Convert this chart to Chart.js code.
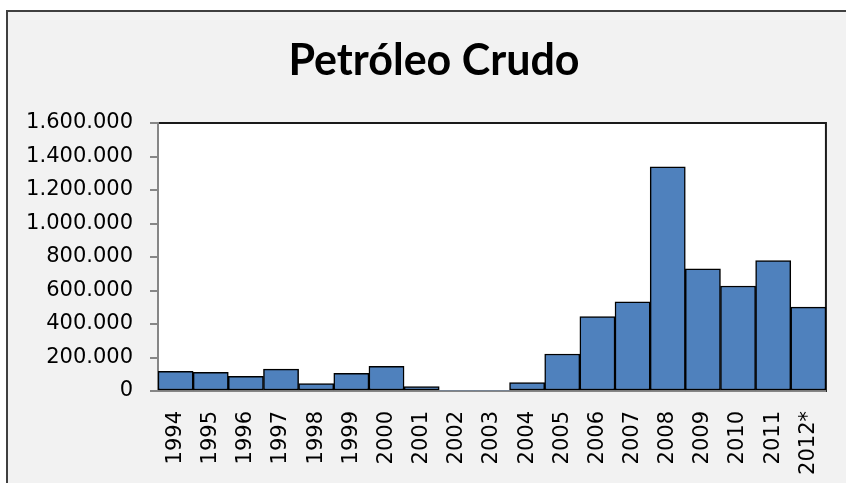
<!DOCTYPE html>
<html>
<head>
<meta charset="utf-8">
<title>Petróleo Crudo</title>
<script src="https://cdn.jsdelivr.net/npm/chart.js@4.4.1/dist/chart.umd.min.js"></script>
<style>
    html, body {
        margin: 0;
        padding: 0;
        background: #ffffff;
        overflow: hidden;
    }
    #frame {
        position: absolute;
        left: 6px;
        top: 10px;
        width: 900px;
        height: 520px;
        border: 2px solid #404040;
        background: #f2f2f2;
    }
    #petroleoChart {
        position: absolute;
        left: 0;
        top: 0;
    }
</style>
</head>
<body>
<div id="frame"></div>
<canvas id="petroleoChart" width="846" height="483"></canvas>
<script>
// Data
const chartTitle = 'Petróleo Crudo';
const years = ['1994', '1995', '1996', '1997', '1998', '1999', '2000', '2001', '2002', '2003',
    '2004', '2005', '2006', '2007', '2008', '2009', '2010', '2011', '2012*'];
const crudeValues = [117000, 111000, 87000, 131000, 45000, 105000, 147000, 26000, 0, 0,
    50000, 221000, 444000, 533000, 1339000, 730000, 627000, 778000, 501000];
const yTicks = [0, 200000, 400000, 600000, 800000, 1000000, 1200000, 1400000, 1600000];

// Format numbers with dots as thousands separator (1.600.000)
function formatDots(value) {
    return String(value).replace(/\B(?=(\d{3})+(?!\d))/g, '.');
}

// White plot area with dark border on top and right
const plotBackground = {
    id: 'plotBackground',
    beforeDraw(chart) {
        const area = chart.chartArea;
        const ctx = chart.ctx;
        ctx.save();
        ctx.fillStyle = '#ffffff';
        ctx.fillRect(area.left, area.top, area.right - area.left, area.bottom - area.top);
        ctx.strokeStyle = '#1a1a1a';
        ctx.lineWidth = 2;
        ctx.strokeRect(area.left, area.top, area.right - area.left, area.bottom - area.top);
        ctx.restore();
    }
};

// Title centred over the whole chart frame (not the canvas)
const frameTitle = {
    id: 'frameTitle',
    afterDraw(chart) {
        const ctx = chart.ctx;
        ctx.save();
        ctx.font = 'bold 43px Lato';
        ctx.fillStyle = '#000000';
        ctx.textAlign = 'center';
        ctx.textBaseline = 'middle';
        ctx.fillText(chartTitle, 434, 61);
        ctx.restore();
    }
};

Promise.all([
    document.fonts.load('bold 43px Lato'),
    document.fonts.load('21px "DejaVu Sans"')
]).catch(() => {}).then(() => {
    const ctx = document.getElementById('petroleoChart').getContext('2d');
    new Chart(ctx, {
        type: 'bar',
        data: {
            labels: years,
            datasets: [{
                label: chartTitle,
                data: crudeValues,
                backgroundColor: '#4f81bd',
                borderColor: '#000000',
                borderWidth: c => (c.raw ? 1.5 : 0),
                borderSkipped: false,
                categoryPercentage: 1,
                barPercentage: 1
            }]
        },
        options: {
            responsive: false,
            animation: false,
            devicePixelRatio: 1,
            layout: {
                padding: { top: 123, right: 17, bottom: 0, left: 0 }
            },
            plugins: {
                legend: { display: false },
                tooltip: { enabled: false },
                title: { display: false }
            },
            scales: {
                x: {
                    grid: { display: false },
                    border: { color: '#868686', width: 2 },
                    ticks: {
                        color: '#000000',
                        font: { family: 'DejaVu Sans', size: 21 },
                        maxRotation: 90,
                        minRotation: 90,
                        autoSkip: false,
                        padding: 12
                    },
                    afterFit(scale) {
                        scale.height = 92;
                    }
                },
                y: {
                    min: 0,
                    max: 1600000,
                    afterBuildTicks(scale) {
                        scale.ticks = yTicks.map(v => ({ value: v }));
                    },
                    grid: {
                        drawOnChartArea: false,
                        drawTicks: true,
                        tickLength: 8,
                        color: '#868686',
                        lineWidth: 2
                    },
                    border: { color: '#868686', width: 2 },
                    ticks: {
                        color: '#000000',
                        font: { family: 'DejaVu Sans', size: 21 },
                        padding: 17,
                        callback: value => formatDots(value)
                    },
                    afterFit(scale) {
                        scale.width = 158;
                    }
                }
            }
        },
        plugins: [plotBackground, frameTitle]
    });
});
</script>
</body>
</html>
